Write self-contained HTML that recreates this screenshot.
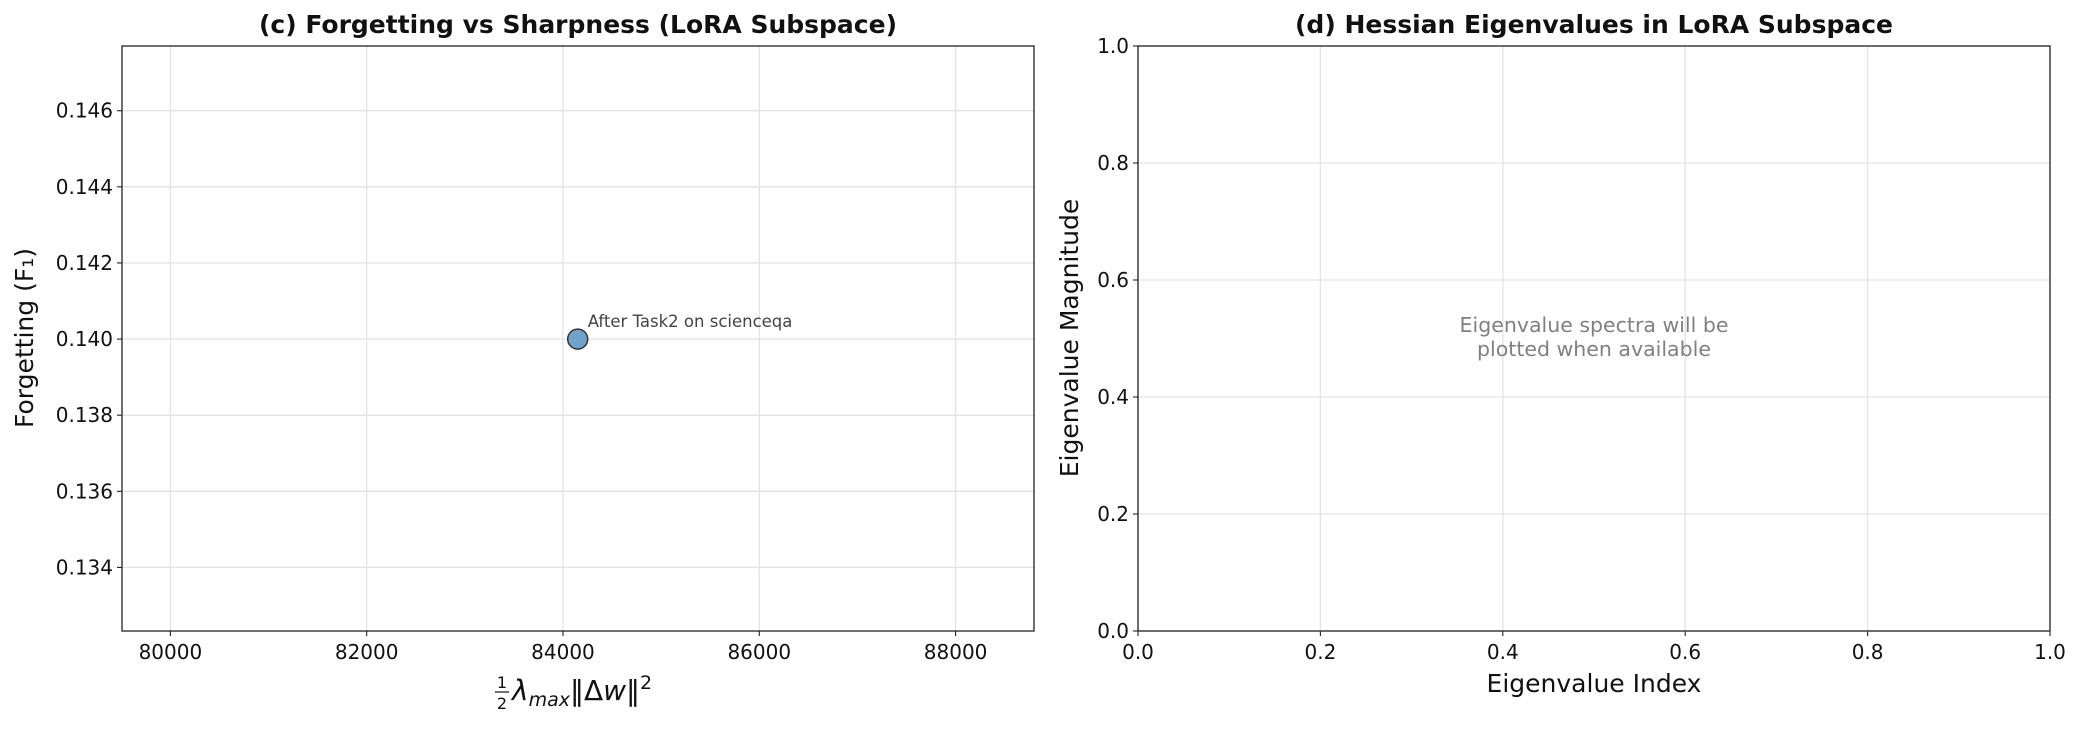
<!DOCTYPE html>
<html><head><meta charset="utf-8"><style>
html,body{margin:0;padding:0;background:#fff;}
svg{display:block;font-family:"DejaVu Sans","Liberation Sans",sans-serif;}
</style></head><body>
<svg id="chart" width="2082" height="729" viewBox="0 0 2082 729" xmlns="http://www.w3.org/2000/svg">
<rect width="2082" height="729" fill="#fff"/>
<g id="left"></g>
<g id="right"></g>
</svg>
<script>
const NS='http://www.w3.org/2000/svg';
// Panel (c) data
const xTicksC=[80000,82000,84000,86000,88000];
const yTicksC=[0.134,0.136,0.138,0.140,0.142,0.144,0.146];
const pointX=[84150];
const pointY=[0.140];
const pointLabels=['After Task2 on scienceqa'];
// Panel (d) data
const xTicksD=[0,0.2,0.4,0.6,0.8,1.0];
const yTicksD=[0,0.2,0.4,0.6,0.8,1.0];

function mk(tag,attrs,parent,text){const e=document.createElementNS(NS,tag);for(const k in attrs)e.setAttribute(k,attrs[k]);if(text!==undefined)e.textContent=text;parent.appendChild(e);return e;}

function axes(g,L,R,T,B,xmin,xmax,ymin,ymax,xt,yt,xfmt,yfmt){
  const sx=v=>L+(v-xmin)/(xmax-xmin)*(R-L);
  const sy=v=>B-(v-ymin)/(ymax-ymin)*(B-T);
  xt.forEach(v=>{const x=sx(v);
    const l=mk('line',{x1:x,x2:x,y1:T,y2:B,stroke:'#e3e3e3','stroke-width':1.3},g);
    
    mk('line',{x1:x,x2:x,y1:B,y2:B+5,stroke:'#222','stroke-width':1.1},g);
    const t=mk('text',{x:x,y:B+28,'text-anchor':'middle','font-size':20,fill:'#111'},g,xfmt(v));
    });
  yt.forEach(v=>{const y=sy(v);
    const l=mk('line',{x1:L,x2:R,y1:y,y2:y,stroke:'#e3e3e3','stroke-width':1.3},g);
    
    mk('line',{x1:L-5,x2:L,y1:y,y2:y,stroke:'#222','stroke-width':1.1},g);
    const t=mk('text',{x:L-9,y:y+7,'text-anchor':'end','font-size':20,fill:'#111'},g,yfmt(v));
    });
  const f=mk('rect',{x:L,y:T,width:R-L,height:B-T,fill:'none',stroke:'#222','stroke-width':1.3},g);
  
  return {sx,sy};
}

// Left panel
const gl=document.getElementById('left');
const c=axes(gl,122,1034,46,631,79507,88799,0.13233,0.1477,xTicksC,yTicksC,v=>String(v),v=>v.toFixed(3));
pointX.forEach((px,i)=>{
  const cx=c.sx(px),cy=c.sy(pointY[i]);
  const p=mk('circle',{cx:cx,cy:cy,r:10,fill:'#6fa3cc',stroke:'#333','stroke-width':1.5},gl);
  
  
  const t=mk('text',{x:cx+10,y:cy-12,'font-size':16.5,fill:'#444'},gl,pointLabels[i]);
  
  
});
let t;
t=mk('text',{x:578,y:33,'text-anchor':'middle','font-size':25,'font-weight':'bold',fill:'#111'},gl,'(c) Forgetting vs Sharpness (LoRA Subspace)');

t=mk('text',{x:0,y:0,transform:'translate(33,338) rotate(-90)','text-anchor':'middle','font-size':25,fill:'#111'},gl,'Forgetting (F₁)');

// x label with fraction
const xl=mk('g',{},gl);
mk('text',{x:502,y:688,'text-anchor':'middle','font-size':16,fill:'#111'},xl,'1');
mk('line',{x1:495,x2:509,y1:692,y2:692,stroke:'#111','stroke-width':1.2},xl);
mk('text',{x:502,y:709,'text-anchor':'middle','font-size':16,fill:'#111'},xl,'2');
const xt=mk('text',{x:512,y:700,'font-size':28,fill:'#111','font-style':'italic'},xl);
xt.innerHTML='λ<tspan font-size="19" dy="6">max</tspan><tspan dy="-6" font-style="normal">‖Δ</tspan>w<tspan font-style="normal">‖</tspan><tspan font-size="19" dy="-11" font-style="normal">2</tspan>';

// Right panel
const gr=document.getElementById('right');
axes(gr,1138,2050,46,631,0,1,0,1,xTicksD,yTicksD,v=>v.toFixed(1),v=>v.toFixed(1));
t=mk('text',{x:1594,y:33,'text-anchor':'middle','font-size':25,'font-weight':'bold',fill:'#111'},gr,'(d) Hessian Eigenvalues in LoRA Subspace');

t=mk('text',{x:0,y:0,transform:'translate(1078,338) rotate(-90)','text-anchor':'middle','font-size':25,fill:'#111'},gr,'Eigenvalue Magnitude');

t=mk('text',{x:1594,y:692,'text-anchor':'middle','font-size':25,fill:'#111'},gr,'Eigenvalue Index');

t=mk('text',{x:1594,y:332,'text-anchor':'middle','font-size':20.5,fill:'#808080'},gr,'Eigenvalue spectra will be');

t=mk('text',{x:1594,y:356,'text-anchor':'middle','font-size':20.5,fill:'#808080'},gr,'plotted when available');

</script>
</body></html>
